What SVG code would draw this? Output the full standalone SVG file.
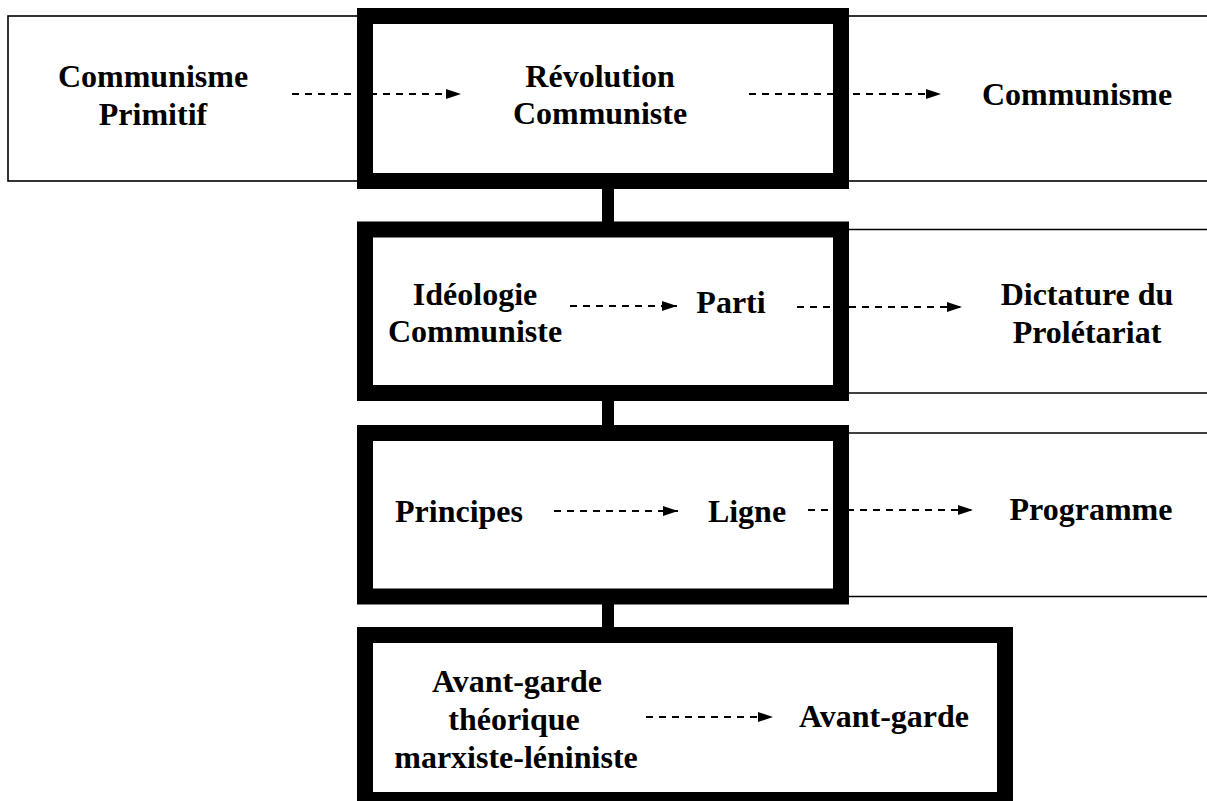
<svg xmlns="http://www.w3.org/2000/svg" width="1207" height="801" viewBox="0 0 1207 801">
  <style>
    .thin { fill: none; stroke: #000; stroke-width: 1.6; }
    .box { fill: #fff; stroke: #000; stroke-width: 16; }
    .link { stroke: #000; stroke-width: 12; }
    .dash { stroke: #000; stroke-width: 2; stroke-dasharray: 7 6; fill: none; marker-end: url(#ah); }
    text { font-family: "Liberation Serif", "Times New Roman", serif; font-weight: bold; font-size: 32px; fill: #000; text-anchor: middle; }
  </style>
  <defs>
    <marker id="ah" markerUnits="userSpaceOnUse" markerWidth="15" markerHeight="10" refX="15" refY="5" orient="auto">
      <path d="M0,0 L15,5 L0,10 z" fill="#000"/>
    </marker>
  </defs>
  <rect width="1207" height="801" fill="#fff"/>

  <g id="frames">
    <rect class="thin" x="8" y="16" width="1210" height="165"/>
    <line class="thin" x1="849" y1="229.5" x2="1210" y2="229.5"/>
    <line class="thin" x1="849" y1="393" x2="1210" y2="393"/>
    <line class="thin" x1="849" y1="433" x2="1210" y2="433"/>
    <line class="thin" x1="849" y1="596.5" x2="1210" y2="596.5"/>
  </g>

  <g id="node-revolution">
    <rect class="box" x="365" y="16" width="476" height="165"/>
  </g>
  <g id="node-ideologie">
    <rect class="box" x="365" y="229.5" width="476" height="163.5"/>
  </g>
  <g id="node-principes">
    <rect class="box" x="365" y="433" width="476" height="163.5"/>
  </g>
  <g id="node-avant-garde">
    <rect class="box" x="365" y="635" width="640" height="165"/>
  </g>

  <g id="connectors">
    <line class="link" x1="608" y1="188" x2="608" y2="222"/>
    <line class="link" x1="608" y1="400" x2="608" y2="426"/>
    <line class="link" x1="608" y1="603" x2="608" y2="628"/>
    <line class="dash" x1="292" y1="94" x2="461" y2="94"/>
    <line class="dash" x1="749" y1="94" x2="941" y2="94"/>
    <line class="dash" x1="570" y1="306" x2="677" y2="306"/>
    <line class="dash" x1="797" y1="307" x2="962" y2="307"/>
    <line class="dash" x1="554" y1="511" x2="678" y2="511"/>
    <line class="dash" x1="808" y1="510" x2="973" y2="510"/>
    <line class="dash" x1="646" y1="717" x2="773" y2="717"/>
  </g>

  <g id="labels">
    <g id="t-communisme-primitif">
      <text x="153" y="87">Communisme</text>
      <text x="153" y="125">Primitif</text>
    </g>
    <g id="t-revolution">
      <text x="600" y="87">Révolution</text>
      <text x="600" y="124">Communiste</text>
    </g>
    <g id="t-communisme">
      <text x="1077" y="105">Communisme</text>
    </g>
    <g id="t-ideologie">
      <text x="475" y="305">Idéologie</text>
      <text x="475" y="342">Communiste</text>
    </g>
    <g id="t-parti">
      <text x="731" y="313">Parti</text>
    </g>
    <g id="t-dictature">
      <text x="1087" y="305">Dictature du</text>
      <text x="1087" y="343">Prolétariat</text>
    </g>
    <g id="t-principes">
      <text x="459" y="522">Principes</text>
    </g>
    <g id="t-ligne">
      <text x="747" y="522">Ligne</text>
    </g>
    <g id="t-programme">
      <text x="1091" y="520">Programme</text>
    </g>
    <g id="t-avant-garde-theorique">
      <text x="517" y="692">Avant-garde</text>
      <text x="514" y="730">théorique</text>
      <text x="516" y="768">marxiste-léniniste</text>
    </g>
    <g id="t-avant-garde">
      <text x="884" y="727">Avant-garde</text>
    </g>
  </g>
</svg>
